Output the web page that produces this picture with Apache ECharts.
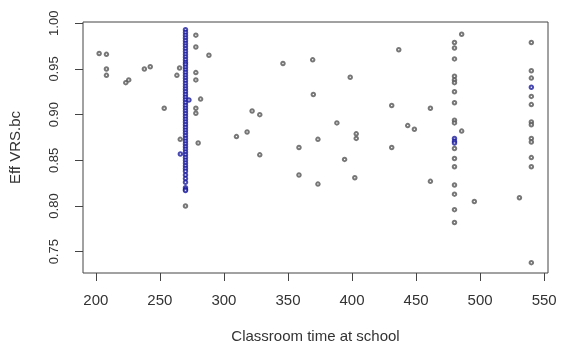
<!DOCTYPE html>
<html>
<head>
<meta charset="utf-8">
<script src="https://cdn.jsdelivr.net/npm/echarts@6/dist/echarts.min.js"></script>
<style>
  html, body { margin: 0; padding: 0; background: #fff; }
  #chart { width: 562px; height: 352px; }
</style>
</head>
<body>
<div id="chart"></div>
<script>
// scattered schools (classroom time, efficiency)
const timeOther = [202.6, 208.3, 208.3, 208.3, 223.4, 225.7, 237.9, 242.5, 253.4, 265.4, 263.3, 265.9,
  278.1, 278.1, 288.3, 278.1, 278.1, 281.8, 278.1, 278.1, 279.9, 270,
  346.1, 369.3, 398.6, 369.8, 322, 328, 318.1, 309.8, 388.2, 373.4, 403.3, 403.3,
  431, 443.5, 448.7, 431, 358.6, 328, 394.2, 358.6, 402.2, 373.4,
  461.2, 485.6, 436.5, 485.6, 461.2, 495.5, 530.7]
const effOther = [0.967, 0.966, 0.950, 0.943, 0.935, 0.938, 0.950, 0.9525, 0.907, 0.951, 0.943, 0.873,
  0.987, 0.974, 0.965, 0.946, 0.938, 0.917, 0.907, 0.9015, 0.869, 0.800,
  0.956, 0.960, 0.941, 0.922, 0.904, 0.900, 0.881, 0.876, 0.891, 0.873, 0.879, 0.874,
  0.910, 0.888, 0.884, 0.864, 0.864, 0.856, 0.851, 0.834, 0.831, 0.824,
  0.907, 0.988, 0.971, 0.882, 0.827, 0.805, 0.809]

// schools sharing the same classroom time
const eff480 = [0.979, 0.973, 0.961, 0.942, 0.938, 0.935, 0.925, 0.913, 0.894, 0.891,
  0.863, 0.852, 0.843, 0.823, 0.813, 0.796, 0.782]
const eff540 = [0.979, 0.948, 0.940, 0.920, 0.911, 0.892, 0.889, 0.874, 0.870, 0.853, 0.843, 0.738]

// highlighted (blue) schools
const eff270Blue = [0.993, 0.990, 0.987, 0.984, 0.981, 0.978, 0.975, 0.972, 0.969, 0.966, 0.963, 0.960,
  0.957, 0.955, 0.952, 0.949, 0.946, 0.943, 0.940, 0.937, 0.934, 0.931, 0.928, 0.925, 0.922, 0.919,
  0.916, 0.913, 0.910, 0.907, 0.904, 0.901, 0.898, 0.895, 0.892, 0.889, 0.886, 0.883, 0.880, 0.877,
  0.874, 0.871, 0.868, 0.865, 0.862, 0.859, 0.856, 0.853, 0.850, 0.847, 0.844, 0.841, 0.838, 0.834,
  0.830, 0.826, 0.820, 0.818, 0.817]
const timeBlueOther = [272.7, 266, 480, 480, 480, 540]
const effBlueOther = [0.916, 0.857, 0.874, 0.871, 0.869, 0.930]

const xTicks = [200, 250, 300, 350, 400, 450, 500, 550]
const yTicks = [0.75, 0.80, 0.85, 0.90, 0.95, 1.00]

const blackPts = timeOther.map((t, i) => [t, effOther[i]])
  .concat(eff480.map(v => [480, v]))
  .concat(eff540.map(v => [540, v]))
const bluePts = eff270Blue.map(v => [270, v])
  .concat(timeBlueOther.map((t, i) => [t, effBlueOther[i]]))

const chart = echarts.init(document.getElementById('chart'))
chart.setOption({
  animation: false,
  textStyle: { fontFamily: 'Liberation Sans, Arial, sans-serif' },
  grid: {
    left: 83, right: 14, top: 22, bottom: 79,
    show: true,
    borderColor: '#444',
    borderWidth: 1
  },
  xAxis: {
    type: 'value',
    min: 190,
    max: 553,
    name: 'Classroom time at school',
    nameLocation: 'middle',
    nameGap: 56,
    nameTextStyle: { fontSize: 15, color: '#333' },
    axisLine: { show: false },
    splitLine: { show: false },
    axisTick: { show: true, length: 8, customValues: xTicks, lineStyle: { color: '#444' } },
    axisLabel: { customValues: xTicks, fontSize: 15, color: '#333', margin: 20 }
  },
  yAxis: {
    type: 'value',
    min: 0.7267,
    max: 1.0014,
    name: 'Eff VRS.bc',
    nameLocation: 'middle',
    nameGap: 60,
    nameTextStyle: { fontSize: 15, color: '#333' },
    axisLine: { show: false },
    splitLine: { show: false },
    axisTick: { show: true, length: 8, customValues: yTicks, lineStyle: { color: '#444' } },
    axisLabel: {
      customValues: yTicks,
      rotate: 90,
      fontSize: 13,
      color: '#333',
      margin: 22,
      formatter: v => v.toFixed(2)
    }
  },
  series: [
    {
      name: 'other',
      type: 'scatter',
      symbol: 'emptyCircle',
      symbolSize: 3.5,
      itemStyle: { color: '#555', borderWidth: 0.8 },
      data: blackPts
    },
    {
      name: 'blue',
      type: 'scatter',
      symbol: 'emptyCircle',
      symbolSize: 3.5,
      itemStyle: { color: '#1a1a9e', borderWidth: 1 },
      data: bluePts
    }
  ]
})
</script>
</body>
</html>
